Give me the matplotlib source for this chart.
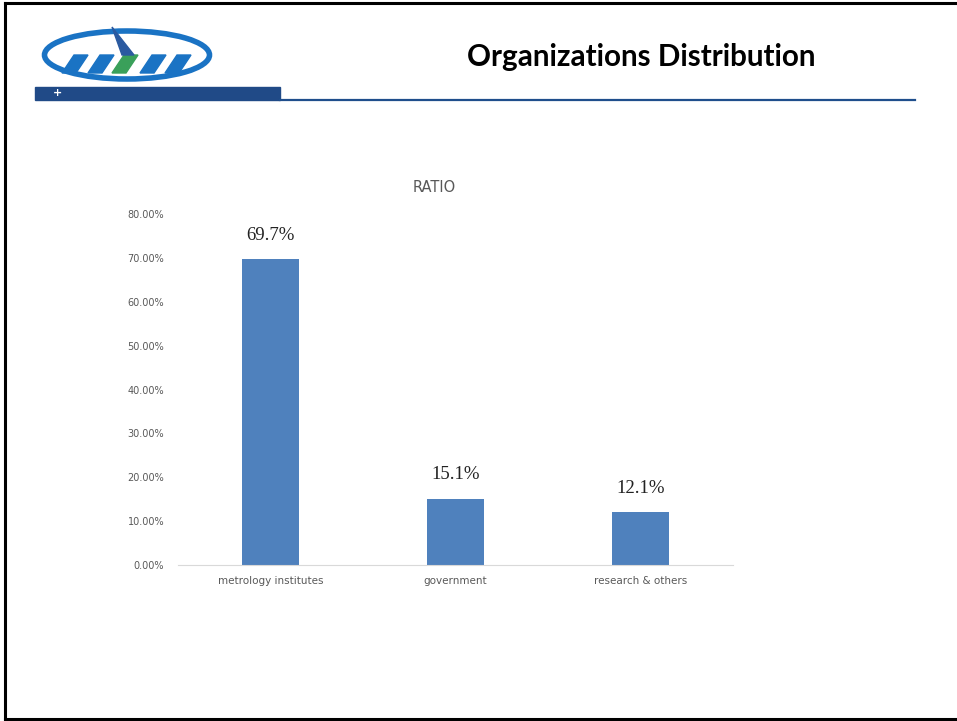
import matplotlib.pyplot as plt
from matplotlib.patches import Rectangle, Ellipse, Polygon
from matplotlib.lines import Line2D

categories = ['metrology institutes', 'government', 'research & others']
ratios = [0.697, 0.151, 0.121]
value_labels = ['69.7%', '15.1%', '12.1%']
y_ticks = [0.0, 0.1, 0.2, 0.3, 0.4, 0.5, 0.6, 0.7, 0.8]

W, H = 957, 721
fig = plt.figure(figsize=(W / 100, H / 100), dpi=100)

def fx(px):
    return px / W

def fy(py):
    return 1 - py / H

# slide frame (left, top, bottom edges)
for xs, ys in [([5, 5], [3, 719]), ([5, 957], [3, 3]), ([5, 957], [719, 719])]:
    fig.add_artist(Line2D([fx(x) for x in xs], [fy(y) for y in ys], color='black', lw=2.2))

# header bar and rule
fig.add_artist(Rectangle((fx(35), fy(100)), fx(280) - fx(35), fy(87) - fy(100),
                         color='#204a87', transform=fig.transFigure))
fig.add_artist(Line2D([fx(280), fx(915)], [fy(99.5), fy(99.5)], color='#1f4e8c', lw=1.6))
fig.text(fx(57), fy(93), '+', color='white', fontsize=8, ha='center', va='center', fontweight='bold')

# rough logo
fig.add_artist(Ellipse((fx(127), fy(55)), fx(165), fy(0) - fy(48), fill=False,
                       edgecolor='#1a73c4', lw=4, transform=fig.transFigure))
for x0, col in [(62, '#1a73c4'), (88, '#1a73c4'), (112, '#3aa05a'), (140, '#1a73c4'), (165, '#1a73c4')]:
    pts = [(x0, 73), (x0 + 14, 73), (x0 + 26, 55), (x0 + 12, 55)]
    fig.add_artist(Polygon([(fx(a), fy(b)) for a, b in pts], closed=True,
                           color=col, transform=fig.transFigure))
fig.add_artist(Polygon([(fx(a), fy(b)) for a, b in [(112, 27), (122, 55), (134, 55)]],
                       closed=True, color='#2b5aa0', transform=fig.transFigure))

fig.text(fx(641), fy(57), 'Organizations Distribution', fontsize=21.3, fontweight='bold',
         family='Lato', ha='center', va='center', color='black')

# chart
ax = fig.add_axes([fx(178), fy(565), fx(733) - fx(178), fy(214) - fy(565)])
x = range(len(categories))
bars = ax.bar(x, ratios, width=0.31, color='#4f81bd')
ax.set_xlim(-0.5, 2.5)
ax.set_ylim(0, 0.8)
ax.set_yticks(y_ticks)
ax.set_yticklabels([f'{t * 100:.2f}%' for t in y_ticks], fontsize=7, color='#595959')
ax.set_xticks(list(x))
ax.set_xticklabels(categories, fontsize=7.5, color='#595959')
ax.tick_params(axis='y', length=0, pad=10)
ax.tick_params(axis='x', length=0, pad=8)
for s in ['top', 'right', 'left']:
    ax.spines[s].set_visible(False)
ax.spines['bottom'].set_color('#d9d9d9')
for b, lbl in zip(bars, value_labels):
    ax.annotate(lbl, (b.get_x() + b.get_width() / 2, b.get_height()),
                xytext=(0, 11), textcoords='offset points', ha='center', va='bottom',
                fontsize=13.5, family='Liberation Serif', color='#222222')

fig.text(fx(434), fy(188), 'RATIO', fontsize=10.5, color='#595959', ha='center', va='center')

fig.savefig('out.png', dpi=100)
